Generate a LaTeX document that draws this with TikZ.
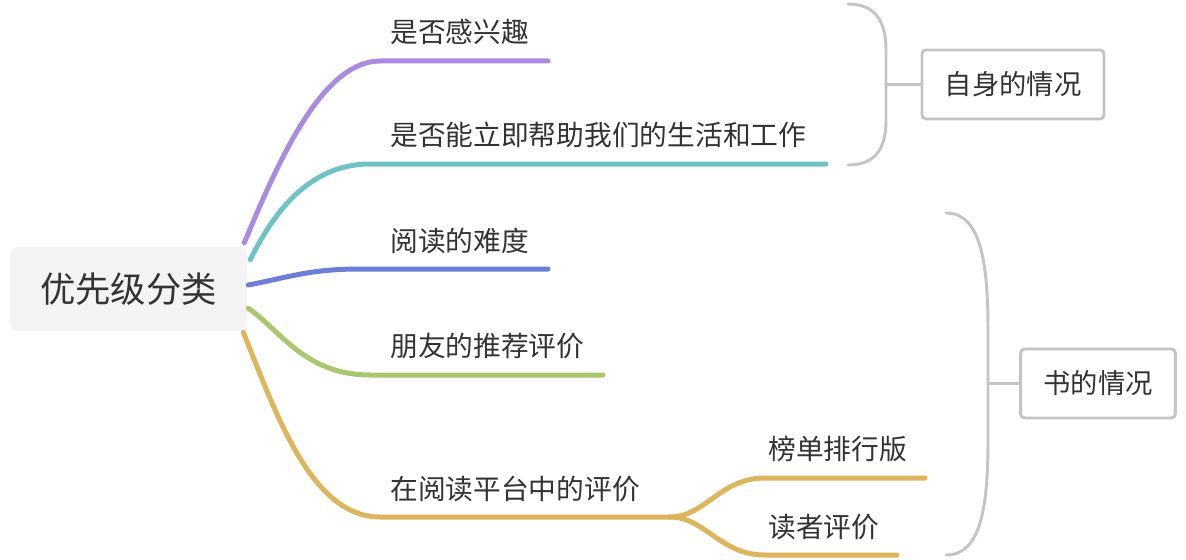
\documentclass[tikz,border=0pt]{standalone}
\usepackage{fontspec}
\setmainfont{Noto Sans CJK SC}
\usetikzlibrary{positioning,calc}
\definecolor{ink}{HTML}{333333}
\definecolor{rootfill}{HTML}{F4F4F4}
\definecolor{bracegray}{HTML}{C4C4C4}
\definecolor{lilac}{HTML}{A98BE0}
\definecolor{teal}{HTML}{6EC4C4}
\definecolor{blueb}{HTML}{6C7ED6}
\definecolor{greenb}{HTML}{A9C76F}
\definecolor{gold}{HTML}{DCB55C}
\begin{document}
\begin{tikzpicture}[x=0.75pt,y=-0.75pt,
    topic/.style={anchor=west,inner sep=0pt,text=ink,font=\fontsize{20.8}{24}\selectfont},
    branch/.style={line width=3.75pt,line cap=round},
    side/.style={draw=bracegray,line width=2.2pt,rounded corners=3pt,fill=white,text=ink,
      inner xsep=17pt,minimum height=51.75pt,font=\fontsize{20.5}{24}\selectfont},
    brace/.style={draw=bracegray,line width=2.2pt,line cap=round}]
    \useasboundingbox (0,0) rectangle (1186,560);
    % central topic
    \node[fill=rootfill,rounded corners=6pt,text=ink,minimum width=177.75pt,minimum height=63pt,
      font=\fontsize{26.5}{30}\selectfont] (root) at (128.5,289) {优先级分类};
    % topics
    \node[topic] (t1) at (390,32) {是否感兴趣};
    \node[topic] (t2) at (390,135) {是否能立即帮助我们的生活和工作};
    \node[topic] (t3) at (390,241) {阅读的难度};
    \node[topic] (t4) at (390,346) {朋友的推荐评价};
    \node[topic] (t5) at (390,489) {在阅读平台中的评价};
    \node[topic] (t6) at (768,449) {榜单排行版};
    \node[topic] (t7) at (768,527) {读者评价};
    % line ends
    \coordinate (e1) at (548,61);
    \coordinate (e2) at (826,164);
    \coordinate (e3) at (548,269);
    \coordinate (e4) at (603,375);
    \coordinate (e5) at (670,517);
    \coordinate (e6) at (925,478);
    \coordinate (e7) at (897,555);
    \draw[branch,lilac] ($(root.north east)+(-3,-4)$) .. controls (275,170) and (320,61) .. (380,61) -- (e1);
    \draw[branch,teal] ($(root.north east)+(3,13)$) .. controls (270,220) and (305,164) .. (370,164) -- (e2);
    \draw[branch,blueb] ($(root.east)+(1,-4)$) .. controls (290,277) and (310,269) .. (360,269) -- (e3);
    \draw[branch,greenb] ($(root.south east)+(1,-23)$) .. controls (280,330) and (305,375) .. (370,375) -- (e4);
    \draw[branch,gold] ($(root.south east)+(-4,1)$) .. controls (275,410) and (310,517) .. (380,517) -- (e5);
    \draw[branch,gold] (e5) .. controls (705,517) and (720,478) .. (765,478) -- (e6);
    \draw[branch,gold] (e5) .. controls (705,517) and (720,555) .. (765,555) -- (e7);
    % summaries
    \node[side] (s1) at (1013,84.5) {自身的情况};
    \node[side] (s2) at (1098,383.5) {书的情况};
    \draw[brace] (848,4) .. controls (878,4) and (886,25) .. (886,50) -- (886,120)
      .. controls (886,145) and (878,165) .. (848,165);
    \draw[brace] (886,84.5) -- (s1.west);
    \draw[brace] (946,213) .. controls (980,213) and (988,260) .. (988,330) -- (988,440)
      .. controls (988,510) and (980,555) .. (946,555);
    \draw[brace] (988,383.5) -- (s2.west);
\end{tikzpicture}
\end{document}
